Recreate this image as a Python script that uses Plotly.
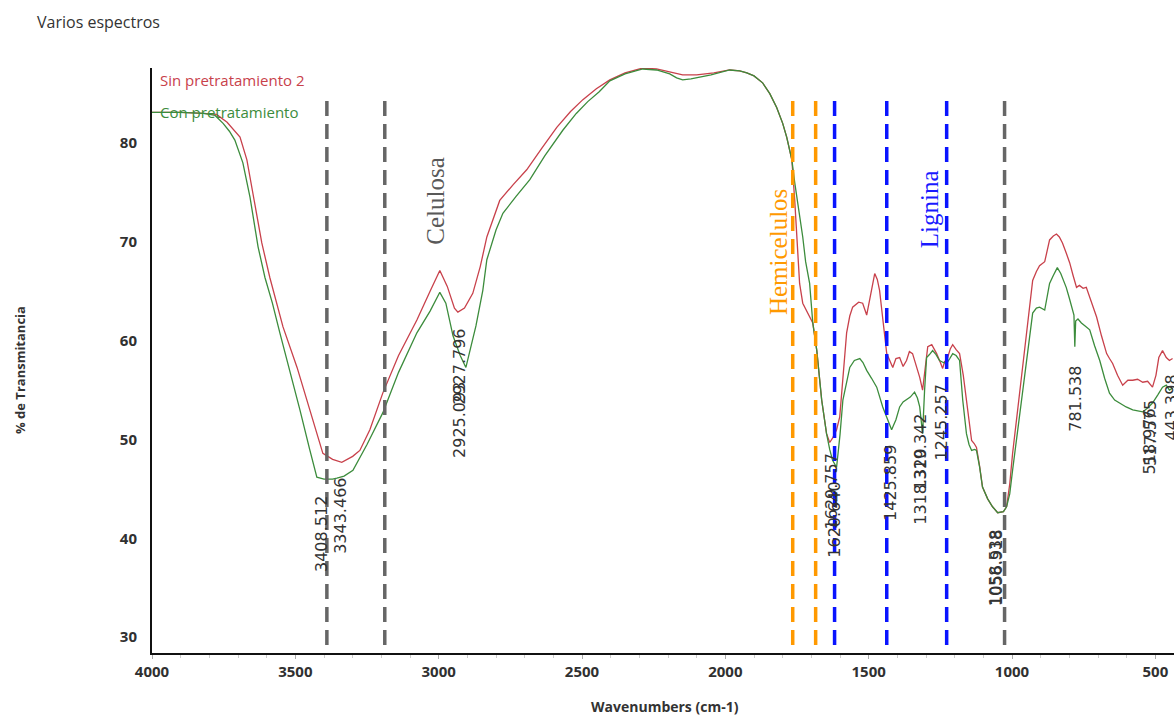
import plotly.graph_objects as go

# ---------------- data ----------------
red_wn = [4000, 3900, 3820, 3775, 3738, 3710, 3693, 3669, 3648, 3617, 3589, 3543, 3494, 3449, 3404, 3370,
          3338, 3300, 3275, 3240, 3195, 3140, 3076, 3030, 2996, 2970, 2945, 2933, 2910, 2881, 2855, 2832,
          2787, 2740, 2693, 2640, 2588, 2540, 2497, 2450, 2403, 2350, 2288, 2240, 2194, 2149, 2100, 2040,
          1985, 1950, 1925, 1900, 1870, 1845, 1821, 1800, 1786, 1768, 1758, 1748, 1741, 1730, 1723, 1710,
          1695, 1681, 1664, 1647, 1636, 1625, 1612, 1601, 1590, 1577, 1566, 1556, 1535, 1521, 1507, 1497,
          1488, 1479, 1470, 1462, 1450, 1437, 1416, 1405, 1392, 1380, 1368, 1358, 1347, 1335, 1322, 1312,
          1303, 1294, 1280, 1263, 1250, 1242, 1235, 1228, 1215, 1207, 1195, 1183, 1170, 1159, 1150, 1141,
          1132, 1124, 1113, 1103, 1085, 1068, 1050, 1030, 1019, 1008, 998, 980, 963, 945, 928, 915, 904,
          886, 877, 869, 856, 845, 835, 824, 810, 799, 787, 775, 765, 752, 741, 723, 705, 688, 670, 660,
          649, 632, 614, 596, 579, 562, 544, 527, 510, 498, 488, 475, 462, 451, 440]
red_t = [83.1, 83.1, 83.0, 82.9, 82.1, 81.2, 80.6, 78.3, 74.9, 69.9, 66.4, 61.4, 57.3, 53.0, 48.6, 48.0,
         47.7, 48.3, 48.9, 51.0, 54.7, 58.5, 62.1, 65.0, 67.1, 65.5, 63.3, 62.9, 63.3, 64.8, 67.5, 70.5,
         74.2, 75.8, 77.3, 79.5, 81.6, 83.2, 84.4, 85.5, 86.4, 87.1, 87.6, 87.5, 87.2, 86.9, 86.9, 87.1,
         87.4, 87.3, 87.1, 86.8, 86.1, 85.0, 83.6, 82.0, 80.6, 78.3, 74.2, 68.5, 65.8, 63.8, 63.4, 62.5,
         61.8, 59.0, 54.0, 50.6, 49.7, 50.2, 51.0, 52.3, 56.0, 60.8, 62.5, 63.4, 63.9, 63.8, 62.6, 64.1,
         65.5, 66.8, 66.2, 65.1, 62.0, 58.7, 57.3, 58.2, 58.3, 57.4, 58.0, 58.9, 58.7, 57.5, 56.3, 55.0,
         57.5, 59.4, 59.6, 58.7, 57.8, 57.2, 57.9, 58.0, 59.2, 59.6, 59.1, 58.7, 56.5, 54.0, 52.0, 49.9,
         49.6, 49.2, 47.3, 45.2, 44.0, 43.2, 42.6, 42.7, 43.2, 45.5, 48.6, 53.0, 57.0, 62.0, 66.1, 67.0, 67.6,
         68.0, 69.3, 70.2, 70.6, 70.8, 70.5, 69.9, 68.8, 67.9, 66.6, 65.4, 65.6, 65.3, 65.4, 63.9, 62.4, 60.5, 58.7, 58.2,
         57.7, 56.5, 55.5, 56.0, 56.0, 56.1, 55.8, 55.9, 55.3, 56.5, 58.3, 59.0, 58.3, 58.0, 58.2]

green_wn = [4000, 3900, 3820, 3780, 3752, 3730, 3711, 3683, 3658, 3630, 3606, 3580, 3554, 3519, 3484, 3450,
            3425, 3400, 3370, 3355, 3330, 3299, 3250, 3195, 3140, 3076, 3030, 2996, 2975, 2950, 2925, 2905,
            2890, 2870, 2846, 2832, 2800, 2776, 2730, 2682, 2630, 2567, 2520, 2480, 2440, 2403, 2350, 2288,
            2240, 2194, 2170, 2149, 2120, 2100, 2050, 1985, 1950, 1925, 1900, 1870, 1845, 1821, 1800, 1786,
            1768, 1758, 1748, 1730, 1720, 1706, 1695, 1681, 1664, 1647, 1636, 1626, 1612, 1600, 1590, 1578,
            1566, 1550, 1531, 1520, 1507, 1490, 1472, 1451, 1435, 1420, 1405, 1392, 1380, 1368, 1355, 1340,
            1330, 1322, 1315, 1312, 1305, 1298, 1288, 1277, 1265, 1253, 1240, 1228, 1217, 1207, 1195, 1183,
            1172, 1159, 1150, 1141, 1130, 1124, 1113, 1103, 1085, 1068, 1050, 1030, 1019, 1008, 998, 980, 963,
            945, 928, 915, 904, 886, 877, 869, 856, 842, 830, 811, 800, 789, 784, 781, 778, 770, 758, 745,
            729, 712, 694, 677, 660, 642, 625, 602, 579, 562, 544, 527, 510, 492, 475, 462, 451, 440]
green_t = [83.1, 83.1, 83.0, 82.8, 82.0, 81.2, 80.3, 78.0, 74.5, 69.5, 66.4, 63.8, 60.8, 57.0, 53.0, 49.0,
           46.2, 46.0, 46.0, 46.1, 46.3, 46.9, 49.5, 52.7, 56.8, 60.8, 63.0, 64.9, 63.8, 60.5, 58.5, 57.3,
           59.0, 61.5, 65.1, 68.2, 71.2, 72.9, 74.6, 76.3, 78.7, 81.3, 83.0, 84.2, 85.2, 86.3, 87.0, 87.5,
           87.4, 87.0, 86.6, 86.4, 86.5, 86.6, 86.9, 87.4, 87.3, 87.1, 86.8, 86.1, 85.0, 83.6, 82.0, 80.6,
           78.3, 76.0, 74.2, 70.5, 68.0, 65.8, 61.8, 59.0, 54.0, 50.6, 49.0, 47.9, 47.2, 50.5, 54.0, 55.8,
           57.3, 58.0, 58.2, 57.8, 57.0, 56.2, 55.3, 53.3, 52.0, 51.0, 52.0, 53.3, 53.8, 54.0, 54.3, 54.8,
           54.2, 53.3, 51.0, 50.6, 55.0, 58.3, 58.6, 59.0, 58.6, 58.0, 57.8, 57.7, 58.2, 58.7, 58.5, 58.0,
           54.0, 50.6, 49.5, 48.9, 49.0, 48.9, 47.2, 45.2, 44.0, 43.2, 42.6, 42.7, 43.2, 44.5, 46.9, 51.0, 55.3,
           59.5, 62.8, 63.3, 63.4, 63.1, 64.5, 65.8, 66.6, 67.4, 66.8, 65.4, 64.3, 63.1, 62.6, 59.4, 62.0, 62.2, 61.8, 61.5,
           61.1, 59.5, 58.0, 56.2, 54.7, 54.0, 53.7, 53.3, 53.0, 52.9, 52.8, 53.2, 53.7, 54.5, 55.3, 55.5, 55.0, 55.2]

series_names = ["Sin pretratamiento 2", "Con pretratamiento"]
series_colors = ["#c8414b", "#3c8c3c"]

x_ticks = [4000, 3500, 3000, 2500, 2000, 1500, 1000, 500]
y_ticks = [30, 40, 50, 60, 70, 80]

# peak labels from the spectrometer software
peak_text = ["3408.512", "3343.466", "2925.093", "2927.796", "1629.757", "1620.640", "1425.859",
             "1318.320", "1319.342", "1245.257", "1058.538", "1056.918", "781.538", "518.976",
             "517.575", "443.398"]
peak_x = [3408.512, 3343.466, 2925.093, 2927.796, 1629.757, 1620.640, 1425.859,
          1318.320, 1319.342, 1245.257, 1058.538, 1056.918, 781.538, 518.976, 517.575, 443.398]
peak_y = [40.4, 42.3, 52.0, 57.4, 44.8, 41.9, 45.6, 45.2, 48.8, 51.7, 37.0, 37.0, 54.1, 49.8, 50.7, 53.2]

# marker lines for the component bands
band_x = [3390, 3188, 1765, 1685, 1619, 1437, 1228, 1026]
band_colors = ["#666666", "#666666", "#ff9900", "#ff9900", "#0a14ff", "#0a14ff", "#0a14ff", "#666666"]

group_text = ["Celulosa", "Hemicelulos", "Lignina"]
group_x = [3012, 1812, 1290]
group_y = [74.2, 69.0, 73.3]
group_colors = ["#595959", "#ff9900", "#1a1aff"]

X_RANGE = [4000, 435]
Y_RANGE = [28.4, 87.6]

# ---------------- figure ----------------
fig = go.Figure()
for wn, t, name, col in [(red_wn, red_t, series_names[0], series_colors[0]),
                         (green_wn, green_t, series_names[1], series_colors[1])]:
    fig.add_trace(go.Scatter(x=wn, y=t, mode="lines", name=name,
                             line=dict(color=col, width=1.3), showlegend=False))

for bx, bc in zip(band_x, band_colors):
    fig.add_shape(type="line", xref="x", yref="y", x0=bx, x1=bx, y0=29.2, y1=84.4,
                  line=dict(color=bc, width=3.5, dash="15px,8px"))

for txt, px, py in zip(peak_text, peak_x, peak_y):
    fig.add_annotation(x=px, y=py, xref="x", yref="y", text=txt, textangle=-90, showarrow=False,
                       xanchor="center", yanchor="middle",
                       font=dict(family="DejaVu Sans", size=16, color="#333333"))

for txt, gx, gy, gc in zip(group_text, group_x, group_y, group_colors):
    fig.add_annotation(x=gx, y=gy, xref="x", yref="y", text=txt, textangle=-90, showarrow=False,
                       xanchor="center", yanchor="middle",
                       font=dict(family="Liberation Serif", size=25, color=gc))

# series names drawn as coloured text like the original
fig.add_annotation(x=0.006, y=0.979, xref="paper", yref="paper", text=series_names[0], showarrow=False,
                   xanchor="left", yanchor="middle", font=dict(family="Open Sans", size=15, color=series_colors[0]))
fig.add_annotation(x=0.006, y=0.924, xref="paper", yref="paper", text=series_names[1], showarrow=False,
                   xanchor="left", yanchor="middle", font=dict(family="Open Sans", size=15, color=series_colors[1]))

# axis titles
fig.add_annotation(x=-0.129, y=0.484, xref="paper", yref="paper", text="% de Transmitancia", textangle=-90,
                   showarrow=False, xanchor="center", yanchor="middle",
                   font=dict(family="Open Sans", size=13, color="#333333", weight="bold"))
fig.add_annotation(x=0.502, y=-0.092, xref="paper", yref="paper", text="Wavenumbers (cm-1)",
                   showarrow=False, xanchor="center", yanchor="middle",
                   font=dict(family="Open Sans", size=14, color="#333333", weight="bold"))

fig.update_layout(
    width=1174, height=717,
    margin=dict(l=152, r=0, t=68, b=64),
    paper_bgcolor="white", plot_bgcolor="white",
    title=dict(text="Varios espectros", x=37 / 1174, xanchor="left", y=1 - 22 / 717, yanchor="middle",
               xref="container", yref="container",
               font=dict(family="Open Sans", size=16, color="#333333")),
    showlegend=False,
)
fig.update_xaxes(range=X_RANGE, tickvals=x_ticks, ticktext=[str(v) for v in x_ticks],
                 showgrid=False, zeroline=False, showline=True, linecolor="#111111", linewidth=2,
                 ticks="outside", ticklen=4, tickcolor="#aaaaaa",
                 minor=dict(dtick=100, ticks="outside", ticklen=3, tickcolor="#cccccc"),
                 tickfont=dict(family="Open Sans", size=15, color="#303030", weight="bold"))
fig.update_yaxes(range=Y_RANGE, tickvals=y_ticks, ticktext=[str(v) for v in y_ticks],
                 showgrid=False, zeroline=False, showline=True, linecolor="#111111", linewidth=2,
                 ticks="", ticklabelstandoff=10,
                 tickfont=dict(family="Open Sans", size=15, color="#303030", weight="bold"))

fig.write_html("out.html", config={"displayModeBar": False},
               post_script="document.body.style.margin='0';document.body.style.overflow='hidden';")
